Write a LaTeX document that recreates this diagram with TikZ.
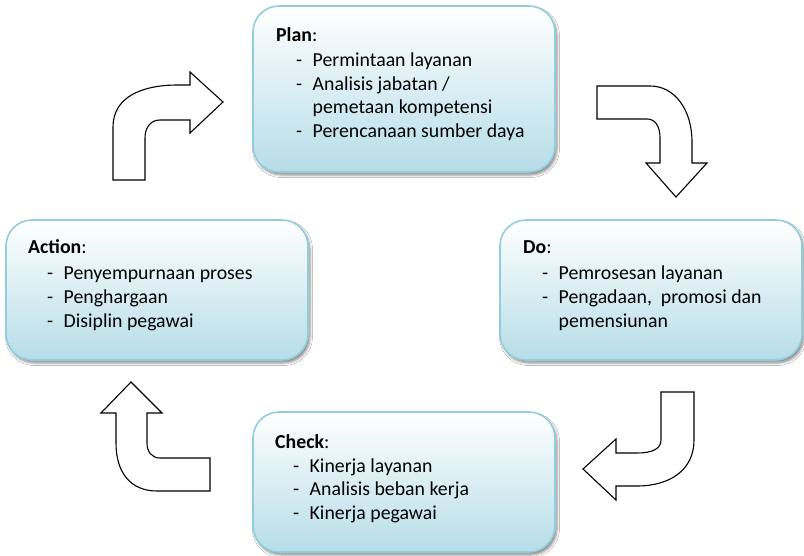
\documentclass[tikz,border=0pt]{standalone}
\usepackage{fontspec}
\setmainfont{Carlito}
\usetikzlibrary{shadows.blur}
\definecolor{boxedge}{RGB}{146,205,220}
\definecolor{boxfill}{RGB}{182,221,232}
\tikzset{
  phase/.style={draw=boxedge, line width=1.6pt, rounded corners=26pt,
    top color=white, bottom color=boxfill,
    blur shadow={shadow xshift=2pt, shadow yshift=-3pt, shadow blur radius=2.5pt, shadow opacity=45},
    minimum width=302pt, inner sep=0pt},
  heading/.style={anchor=base west, inner sep=0pt, font=\fontsize{19.8}{24}\selectfont},
  items/.style={anchor=base west, inner sep=0pt, font=\fontsize{19.8}{23.7}\selectfont},
  bent/.style={draw=black, fill=white, line width=1.1pt, line join=miter}
}
\newcommand{\itm}{\makebox[16.5pt][l]{-}}
\newcommand{\cnt}{\hspace*{16.5pt}}
\begin{document}
\begin{tikzpicture}[x=1pt, y=-1pt]
  \useasboundingbox (0,0) rectangle (804,556);
  \fill[white] (0,0) rectangle (804,556);

  % the four phase boxes
  \node[phase, minimum height=166pt] (plan) at (404,89) {};
  \node[phase, minimum height=140pt] (action) at (157,290) {};
  \node[phase, minimum height=140pt] (do) at (651,290) {};
  \node[phase, minimum height=140pt] (check) at (404,482) {};

  % Plan
  \node[heading] (plantitle) at (276,41.5) {\textbf{Plan}:};
  \node[items] (planlist) at (296,66.5) {\begin{tabular}[t]{@{}l@{}}
    \itm Permintaan layanan\\
    \itm Analisis jabatan /\\
    \cnt pemetaan kompetensi\\
    \itm Perencanaan sumber daya
  \end{tabular}};

  % Action
  \node[heading] (actiontitle) at (28,254) {\textbf{Action}:};
  \node[items] (actionlist) at (47,280) {\begin{tabular}[t]{@{}l@{}}
    \itm Penyempurnaan proses\\
    \itm Penghargaan\\
    \itm Disiplin pegawai
  \end{tabular}};

  % Do
  \node[heading] (dotitle) at (523,254) {\textbf{Do}:};
  \node[items] (dolist) at (542,280) {\begin{tabular}[t]{@{}l@{}}
    \itm Pemrosesan layanan\\
    \itm Pengadaan,\ \ promosi dan\\
    \cnt pemensiunan
  \end{tabular}};

  % Check
  \node[heading] (checktitle) at (275,448) {\textbf{Check}:};
  \node[items] (checklist) at (293,472) {\begin{tabular}[t]{@{}l@{}}
    \itm Kinerja layanan\\
    \itm Analisis beban kerja\\
    \itm Kinerja pegawai
  \end{tabular}};

  % bent block arrows running clockwise between the phases
  % Action -> Plan
  \draw[bent] (113,180) -- (113,127) .. controls (113,98) and (140,85) .. (178,85)
    -- (190,85) -- (190,72) -- (223,102) -- (190,133) -- (190,120) -- (160,120)
    .. controls (151,120) and (145,127) .. (145,138) -- (145,180) -- cycle;
  % Plan -> Do
  \draw[bent] (597,86) -- (650,86) .. controls (675,86) and (692,110) .. (692,142)
    -- (692,163) -- (707,163) -- (676,197) -- (646,163) -- (660,163) -- (660,138)
    .. controls (660,126) and (655,119) .. (647,119) -- (597,119) -- cycle;
  % Do -> Check
  \draw[bent] (661,392) -- (694,392) -- (694,440) .. controls (694,470) and (670,486) .. (637,486)
    -- (616,486) -- (616,500) -- (583,469) -- (616,439) -- (616,453) -- (637,453)
    .. controls (652,453) and (661,449) .. (661,440) -- cycle;
  % Check -> Action
  \draw[bent] (210,458) -- (160,458) .. controls (152,458) and (147,452) .. (147,443)
    -- (147,413) -- (162,413) -- (131,382) -- (101,413) -- (116,413) -- (116,443)
    .. controls (116,472) and (130,491) .. (157,491) -- (210,491) -- cycle;
\end{tikzpicture}
\end{document}
